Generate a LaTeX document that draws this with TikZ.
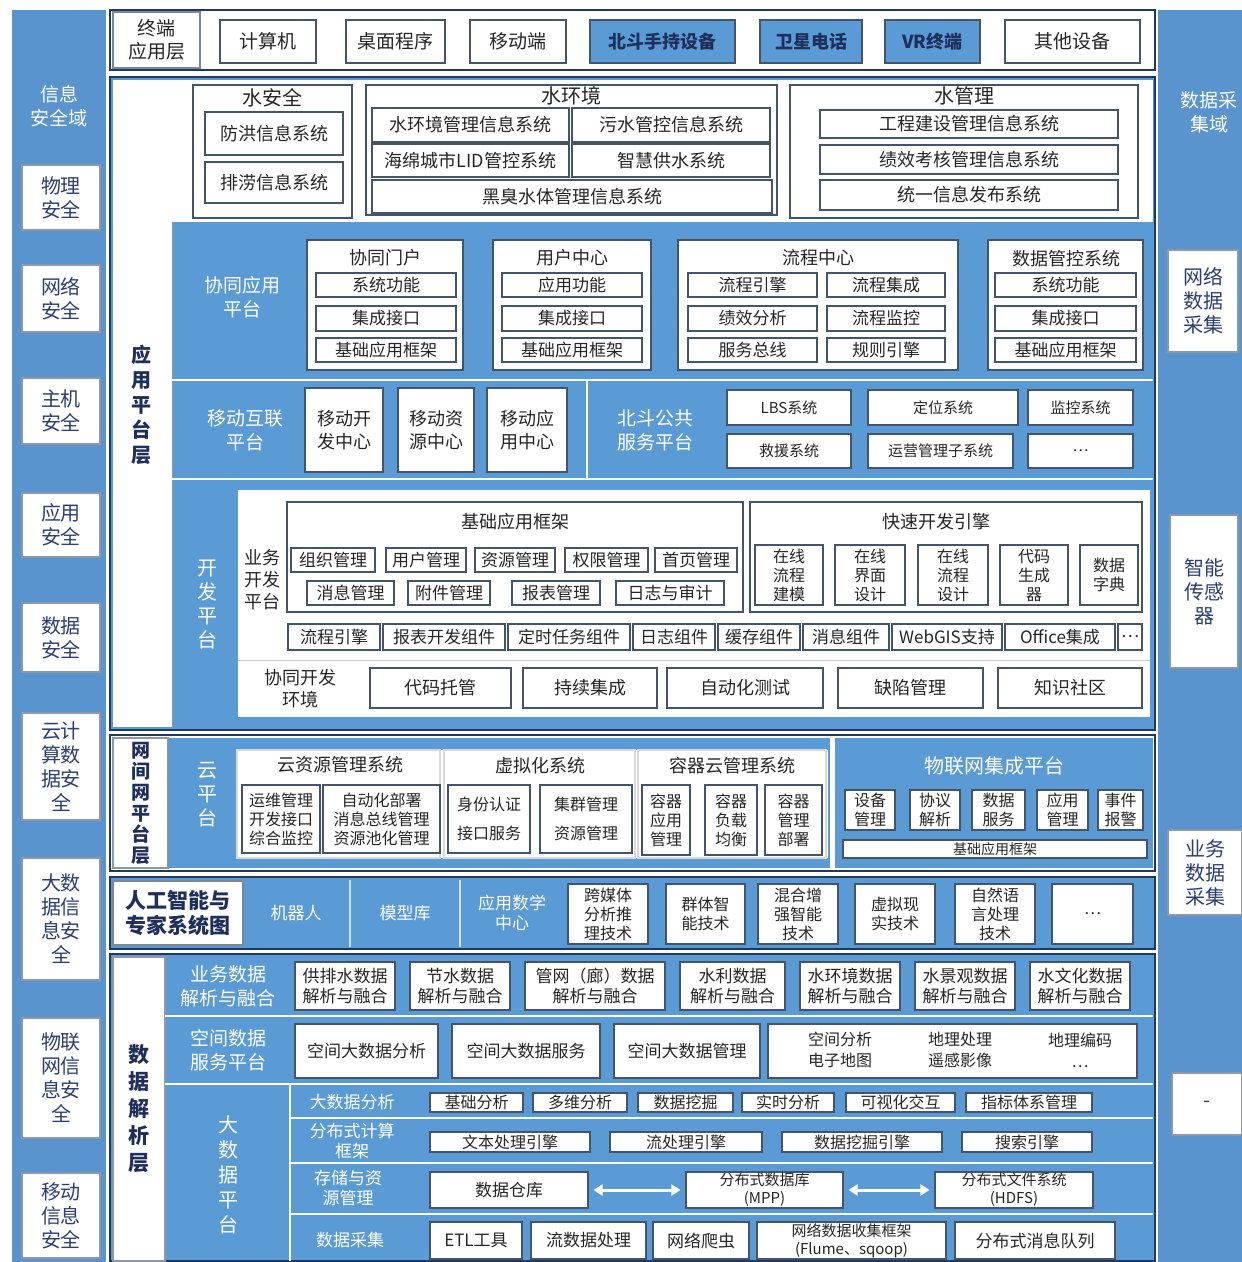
\documentclass[tikz,border=0pt]{standalone}
\usepackage{fontspec}
\setmainfont{Noto Sans CJK SC}
\usetikzlibrary{arrows.meta}
\definecolor{bl}{HTML}{5B9BD5}
\definecolor{sideb}{HTML}{5A94CF}
\definecolor{frame}{HTML}{1F3864}
\definecolor{bxd}{HTML}{44546A}
\definecolor{tx}{HTML}{262626}
\definecolor{navy}{HTML}{1F2F5C}
\definecolor{sidetx}{HTML}{2B3F73}
\newcommand\fsz[2]{\fontsize{#1}{#2}\selectfont}
\newcommand\bx[7][]{\node[box,minimum width={(#5-#3)*1pt},minimum height={(#6-#4)*1pt},#1] (#2) at ({(#3+#5)/2},{(#4+#6)/2}) {#7};}
\tikzset{
  box/.style={draw=bxd, line width=1.1pt, fill=white, text=tx, inner sep=0pt, align=center, font=\fsz{17}{20}},
  bbox/.style={fill=bl, text=navy, font=\fsz{18}{21}\bfseries},
  sidebox/.style={text=sidetx, font=\fsz{20}{24}, draw=bxd!60},
  wl/.style={text=white, align=center, inner sep=0pt, font=\fsz{19}{24}},
  dl/.style={text=tx, align=center, inner sep=0pt, font=\fsz{18}{22}},
  ttl/.style={text=tx, align=center, inner sep=0pt, font=\fsz{18}{21}},
  sm/.style={font=\fsz{15}{18}},
  md/.style={font=\fsz{16}{19}},
  sep/.style={white, line width=1.6pt},
  sect/.style={draw=frame, line width=1.4pt},
  dblarrow/.style={white, line width=3pt, {Triangle[width=11pt,length=9pt]}-{Triangle[width=11pt,length=9pt]}, shorten >=5pt, shorten <=5pt},
}
\begin{document}
\begin{tikzpicture}[x=1pt,y=-1pt]
\useasboundingbox (0,0) rectangle (1242,1262);
\fill[white] (0,0) rectangle (1242,1262);

% ---------- left column: information security ----------
\fill[sideb] (12,10) rectangle (106,1262);
\node[wl] (lsec) at (59,106) {信息\\安全域};
\bx[sidebox]{l1}{22}{165}{100}{230}{物理\\安全}
\bx[sidebox]{l2}{22}{265}{100}{332}{网络\\安全}
\bx[sidebox]{l3}{22}{378}{100}{444}{主机\\安全}
\bx[sidebox]{l4}{22}{493}{100}{557}{应用\\安全}
\bx[sidebox]{l5}{22}{603}{100}{672}{数据\\安全}
\bx[sidebox]{l6}{22}{713}{100}{820}{云计\\算数\\据安\\全}
\bx[sidebox]{l7}{22}{858}{100}{980}{大数\\据信\\息安\\全}
\bx[sidebox]{l8}{22}{1018}{100}{1138}{物联\\网信\\息安\\全}
\bx[sidebox]{l9}{22}{1173}{100}{1258}{移动\\信息\\安全}

% ---------- right column: data collection ----------
\fill[sideb] (1158,10) rectangle (1242,1262);
\node[wl] (rsec) at (1209,112) {数据采\\集域};
\bx[sidebox]{r1}{1168}{250}{1238}{352}{网络\\数据\\采集}
\bx[sidebox]{r2}{1170}{515}{1238}{668}{智能\\传感\\器}
\bx[sidebox]{r3}{1168}{830}{1242}{915}{业务\\数据\\采集}
\bx[sidebox]{r4}{1172}{1073}{1242}{1135}{-}

% ---------- terminal layer ----------
\draw[sect, fill=white] (110,10) rectangle (1155,70);
\bx[font=\fsz{19}{23}, draw=bxd!70]{tl}{113}{12}{200}{68}{终端\\应用层}
\bx[font=\fsz{19}{22}]{t1}{220}{20}{316}{63}{计算机}
\bx[font=\fsz{19}{22}]{t2}{346}{20}{445}{63}{桌面程序}
\bx[font=\fsz{19}{22}]{t3}{470}{20}{566}{63}{移动端}
\bx[bbox]{t4}{590}{20}{735}{63}{北斗手持设备}
\bx[bbox]{t5}{760}{20}{862}{63}{卫星电话}
\bx[bbox]{t6}{885}{20}{980}{63}{VR终端}
\bx[font=\fsz{19}{22}]{t7}{1005}{20}{1140}{63}{其他设备}

% ---------- application platform layer ----------
\draw[sect, fill=bl] (110,77) rectangle (1155,730);
\fill[white] (113,80) rectangle (172,727);
\draw[bxd!60, line width=0.8pt] (172,80) -- (172,727);
\node[dl, font=\fsz{20}{25}\bfseries, text=navy] (apl) at (141,405) {应\\用\\平\\台\\层};
\fill[white] (172,80) rectangle (1153,222);

% water rows
\bx{ws}{193}{85}{352}{218}{}
\node[ttl, font=\fsz{20}{23}] (wst) at (272,98) {水安全};
\bx[font=\fsz{18}{21}]{ws1}{205}{112}{343}{155}{防洪信息系统}
\bx[font=\fsz{18}{21}]{ws2}{205}{162}{343}{203}{排涝信息系统}
\bx{we}{366}{85}{777}{215}{}
\node[ttl, font=\fsz{20}{23}] (wet) at (571,96) {水环境};
\bx[font=\fsz{18}{20}]{we1}{372}{108}{569}{142}{水环境管理信息系统}
\bx[font=\fsz{18}{20}]{we2}{572}{108}{770}{142}{污水管控信息系统}
\bx[font=\fsz{18}{20}]{we3}{372}{144}{569}{177}{海绵城市LID管控系统}
\bx[font=\fsz{18}{20}]{we4}{572}{144}{770}{177}{智慧供水系统}
\bx[font=\fsz{18}{20}]{we5}{372}{180}{772}{213}{黑臭水体管理信息系统}
\bx{wm}{790}{85}{1138}{218}{}
\node[ttl, font=\fsz{20}{23}] (wmt) at (964,96) {水管理};
\bx[font=\fsz{18}{20}]{wm1}{820}{110}{1118}{138}{工程建设管理信息系统}
\bx[font=\fsz{18}{20}]{wm2}{820}{145}{1118}{174}{绩效考核管理信息系统}
\bx[font=\fsz{18}{20}]{wm3}{820}{180}{1118}{210}{统一信息发布系统}

% collaborative application platform
\node[wl] (xt) at (242,297) {协同应用\\平台};
\bx{xa}{307}{240}{463}{370}{}
\node[ttl] (xat) at (385,258) {协同门户};
\bx{xa1}{316}{273}{456}{297}{系统功能}
\bx{xa2}{316}{306}{456}{331}{集成接口}
\bx{xa3}{316}{338}{456}{362}{基础应用框架}
\bx{xb}{493}{240}{651}{370}{}
\node[ttl] (xbt) at (572,258) {用户中心};
\bx{xb1}{502}{273}{642}{297}{应用功能}
\bx{xb2}{502}{306}{642}{331}{集成接口}
\bx{xb3}{502}{338}{642}{362}{基础应用框架}
\bx{xc}{678}{240}{958}{370}{}
\node[ttl] (xct) at (818,258) {流程中心};
\bx{xc1}{688}{273}{817}{297}{流程引擎}
\bx{xc2}{827}{273}{945}{297}{流程集成}
\bx{xc3}{688}{306}{817}{331}{绩效分析}
\bx{xc4}{827}{306}{945}{331}{流程监控}
\bx{xc5}{688}{338}{817}{362}{服务总线}
\bx{xc6}{827}{338}{945}{362}{规则引擎}
\bx{xd}{988}{240}{1143}{370}{}
\node[ttl] (xdt) at (1066,259) {数据管控系统};
\bx{xd1}{995}{273}{1136}{297}{系统功能}
\bx{xd2}{995}{306}{1136}{331}{集成接口}
\bx{xd3}{995}{338}{1136}{362}{基础应用框架}
\draw[sep] (172,380) -- (1153,380);

% mobile internet + beidou
\node[wl] (mt) at (245,430) {移动互联\\平台};
\bx[font=\fsz{18}{23}]{m1}{305}{388}{383}{472}{移动开\\发中心}
\bx[font=\fsz{18}{23}]{m2}{398}{388}{474}{472}{移动资\\源中心}
\bx[font=\fsz{18}{23}]{m3}{487}{388}{567}{472}{移动应\\用中心}
\draw[sep, line width=2.2pt] (587,381) -- (587,478);
\node[wl] (bt) at (655,430) {北斗公共\\服务平台};
\bx[sm]{b1}{727}{390}{851}{425}{LBS系统}
\bx[sm]{b2}{868}{390}{1018}{425}{定位系统}
\bx[sm]{b3}{1028}{390}{1133}{425}{监控系统}
\bx[sm]{b4}{727}{434}{851}{468}{救援系统}
\bx[sm]{b5}{868}{434}{1013}{468}{运营管理子系统}
\bx[sm]{b6}{1028}{434}{1133}{468}{…}
\draw[sep] (172,479) -- (1153,479);

% development platform
\node[wl, font=\fsz{20}{24}] (kt) at (207,605) {开\\发\\平\\台};
\fill[white] (238,490) rectangle (1150,717);
\node[dl] (yt) at (262,580) {业务\\开发\\平台};
\bx{jf}{287}{502}{743}{612}{}
\node[ttl] (jft) at (515,522) {基础应用框架};
\bx{j1}{291}{548}{375}{572}{组织管理}
\bx{j2}{386}{548}{466}{572}{用户管理}
\bx{j3}{475}{548}{555}{572}{资源管理}
\bx{j4}{565}{548}{648}{572}{权限管理}
\bx{j5}{655}{548}{737}{572}{首页管理}
\bx{j6}{307}{581}{394}{605}{消息管理}
\bx{j7}{408}{581}{490}{605}{附件管理}
\bx{j8}{512}{581}{600}{605}{报表管理}
\bx{j9}{616}{581}{724}{605}{日志与审计}
\bx{ks}{750}{502}{1142}{612}{}
\node[ttl] (kst) at (936,522) {快速开发引擎};
\bx[md]{k1}{755}{545}{823}{605}{在线\\流程\\建模}
\bx[md]{k2}{835}{545}{905}{605}{在线\\界面\\设计}
\bx[md]{k3}{918}{545}{988}{605}{在线\\流程\\设计}
\bx[md]{k4}{1000}{545}{1068}{605}{代码\\生成\\器}
\bx[md]{k5}{1080}{545}{1138}{605}{数据\\字典}
\bx{c1}{288}{624}{380}{650}{流程引擎}
\bx{c2}{383}{624}{505}{650}{报表开发组件}
\bx{c3}{508}{624}{630}{650}{定时任务组件}
\bx{c4}{633}{624}{715}{650}{日志组件}
\bx{c5}{718}{624}{800}{650}{缓存组件}
\bx{c6}{803}{624}{889}{650}{消息组件}
\bx{c7}{892}{624}{1002}{650}{WebGIS支持}
\bx{c8}{1005}{624}{1115}{650}{Office集成}
\bx{c9}{1118}{624}{1142}{650}{…}
\draw[black!20, line width=1pt] (238,660) -- (1150,660);
\node[dl] (ht) at (300,689) {协同开发\\环境};
\bx[font=\fsz{18}{21}]{h1}{370}{668}{511}{708}{代码托管}
\bx[font=\fsz{18}{21}]{h2}{523}{668}{657}{708}{持续集成}
\bx[font=\fsz{18}{21}]{h3}{667}{668}{823}{708}{自动化测试}
\bx[font=\fsz{18}{21}]{h4}{838}{668}{983}{708}{缺陷管理}
\bx[font=\fsz{18}{21}]{h5}{998}{668}{1142}{708}{知识社区}

% ---------- inter-network platform layer ----------
\draw[sect, fill=white] (110,735) rectangle (1155,871);
\bx[font=\fsz{19}{21}\bfseries, text=navy, draw=bxd!60]{wj}{113}{738}{168}{868}{网\\间\\网\\平\\台\\层}
\fill[bl] (168,738) rectangle (830,868);
\node[wl, font=\fsz{20}{24}] (yp) at (207,795) {云\\平\\台};
\fill[white] (237,750) rectangle (828,858);
\bx[draw=black!15]{cy}{237}{750}{440}{858}{}
\node[ttl] (cyt) at (340,765) {云资源管理系统};
\bx[md]{cy1}{242}{785}{320}{853}{运维管理\\开发接口\\综合监控}
\bx[md]{cy2}{323}{785}{440}{853}{自动化部署\\消息总线管理\\资源池化管理}
\bx[draw=black!15]{vz}{444}{750}{635}{858}{}
\node[ttl] (vzt) at (540,766) {虚拟化系统};
\bx[md]{vz1}{448}{785}{530}{853}{身份认证\\[10pt]接口服务}
\bx[md]{vz2}{540}{785}{632}{853}{集群管理\\[10pt]资源管理}
\bx[draw=black!15]{rq}{638}{750}{826}{858}{}
\node[ttl] (rqt) at (732,766) {容器云管理系统};
\bx[md]{rq1}{642}{785}{690}{855}{容器\\应用\\管理}
\bx[md]{rq2}{705}{785}{757}{855}{容器\\负载\\均衡}
\bx[md]{rq3}{765}{785}{822}{855}{容器\\管理\\部署}
\fill[bl] (835,738) rectangle (1153,868);
\node[wl, font=\fsz{20}{23}] (iot) at (994,766) {物联网集成平台};
\bx[md]{i1}{845}{790}{895}{830}{设备\\管理}
\bx[md]{i2}{910}{790}{960}{830}{协议\\解析}
\bx[md]{i3}{972}{790}{1025}{830}{数据\\服务}
\bx[md]{i4}{1037}{790}{1088}{830}{应用\\管理}
\bx[md]{i5}{1098}{790}{1143}{830}{事件\\报警}
\bx[font=\fsz{14}{16}]{i6}{843}{840}{1147}{858}{基础应用框架}

% ---------- AI row ----------
\draw[sect, fill=bl] (110,877) rectangle (1155,949);
\bx[font=\fsz{21}{25}\bfseries, text=navy, draw=bxd!70]{ai}{113}{881}{243}{945}{人工智能与\\专家系统图}
\draw[white!70!bl, line width=1.2pt] (350,880) -- (350,947);
\draw[white!70!bl, line width=1.2pt] (460,880) -- (460,947);
\node[wl, font=\fsz{17}{20}] (jqr) at (296,913) {机器人};
\node[wl, font=\fsz{17}{20}] (mxk) at (405,913) {模型库};
\node[wl, font=\fsz{17}{20}] (yysx) at (512,913) {应用数学\\中心};
\bx[md]{a1}{568}{884}{648}{944}{跨媒体\\分析推\\理技术}
\bx[md]{a2}{666}{884}{745}{944}{群体智\\能技术}
\bx[md]{a3}{758}{884}{838}{944}{混合增\\强智能\\技术}
\bx[md]{a4}{855}{884}{935}{944}{虚拟现\\实技术}
\bx[md]{a5}{955}{884}{1035}{944}{自然语\\言处理\\技术}
\bx[md]{a6}{1052}{884}{1133}{944}{…}

% ---------- data analysis layer ----------
\draw[sect, fill=bl] (110,954) rectangle (1155,1261);
\bx[font=\fsz{21}{27}\bfseries, text=navy, draw=bxd!60]{sj}{113}{957}{165}{1261}{数\\据\\解\\析\\层}
\node[wl] (ywt) at (228,986) {业务数据\\解析与融合};
\bx{d1}{295}{962}{395}{1010}{供排水数据\\解析与融合}
\bx{d2}{410}{962}{510}{1010}{节水数据\\解析与融合}
\bx{d3}{525}{962}{665}{1010}{管网（廊）数据\\解析与融合}
\bx{d4}{680}{962}{785}{1010}{水利数据\\解析与融合}
\bx{d5}{800}{962}{900}{1010}{水环境数据\\解析与融合}
\bx{d6}{915}{962}{1015}{1010}{水景观数据\\解析与融合}
\bx{d7}{1030}{962}{1130}{1010}{水文化数据\\解析与融合}
\draw[sep] (165,1016) -- (1153,1016);
\node[wl] (kjt) at (228,1050) {空间数据\\服务平台};
\bx[font=\fsz{17}{20}]{s1}{295}{1024}{438}{1078}{空间大数据分析}
\bx[font=\fsz{17}{20}]{s2}{452}{1024}{600}{1078}{空间大数据服务}
\bx[font=\fsz{17}{20}]{s3}{614}{1024}{760}{1078}{空间大数据管理}
\bx{s4}{768}{1024}{1137}{1078}{}
\node[dl, font=\fsz{16}{21}] (s4a) at (840,1050) {空间分析\\电子地图};
\node[dl, font=\fsz{16}{21}] (s4b) at (960,1050) {地理处理\\遥感影像};
\node[dl, font=\fsz{16}{21}] (s4c) at (1080,1050) {地理编码\\…};
\draw[sep] (165,1084) -- (1153,1084);
\draw[sep] (290,1084) -- (290,1261);
\node[wl, font=\fsz{20}{25}] (dsj) at (228,1175) {大\\数\\据\\平\\台};
\draw[sep] (290,1118) -- (1153,1118);
\draw[sep] (290,1163) -- (1153,1163);
\draw[sep] (290,1214) -- (1153,1214);
\node[wl, font=\fsz{17}{20}] (fxl) at (352,1102) {大数据分析};
\node[wl, font=\fsz{17}{20}] (jsl) at (352,1141) {分布式计算\\框架};
\node[wl, font=\fsz{17}{20}] (ccl) at (348,1188) {存储与资\\源管理};
\node[wl, font=\fsz{17}{20}] (cjl) at (350,1240) {数据采集};
\bx[md]{ba1}{430}{1093}{523}{1112}{基础分析}
\bx[md]{ba2}{533}{1093}{627}{1112}{多维分析}
\bx[md]{ba3}{638}{1093}{733}{1112}{数据挖掘}
\bx[md]{ba4}{742}{1093}{834}{1112}{实时分析}
\bx[md]{ba5}{846}{1093}{955}{1112}{可视化交互}
\bx[md]{ba6}{966}{1093}{1092}{1112}{指标体系管理}
\bx[md]{bc1}{430}{1132}{590}{1152}{文本处理引擎}
\bx[md]{bc2}{610}{1132}{762}{1152}{流处理引擎}
\bx[md]{bc3}{782}{1132}{942}{1152}{数据挖掘引擎}
\bx[md]{bc4}{962}{1132}{1092}{1152}{搜索引擎}
\bx{bs1}{430}{1172}{588}{1208}{数据仓库}
\bx[font=\fsz{15}{18}]{bs2}{686}{1172}{843}{1208}{分布式数据库\\(MPP)}
\bx[font=\fsz{15}{18}]{bs3}{935}{1172}{1093}{1208}{分布式文件系统\\(HDFS)}
\draw[dblarrow] (bs1.east) -- (bs2.west);
\draw[dblarrow] (bs2.east) -- (bs3.west);
\bx{bd1}{430}{1222}{522}{1259}{ETL工具}
\bx{bd2}{531}{1222}{646}{1259}{流数据处理}
\bx{bd3}{653}{1222}{749}{1259}{网络爬虫}
\bx[font=\fsz{15}{18}]{bd4}{757}{1222}{946}{1259}{网络数据收集框架\\(Flume、sqoop)}
\bx{bd5}{955}{1222}{1115}{1259}{分布式消息队列}
\end{tikzpicture}
\end{document}
